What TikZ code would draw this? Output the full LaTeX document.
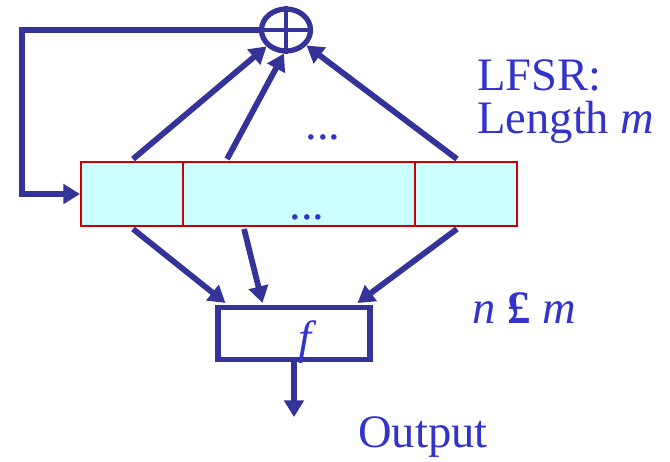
\documentclass[tikz,border=0pt]{standalone}
\usepackage{fontspec}
\setmainfont{Liberation Serif}
\usetikzlibrary{calc,arrows.meta,shapes.geometric}
\definecolor{wireblue}{HTML}{333399}
\definecolor{textblue}{HTML}{3333CC}
\definecolor{cellcyan}{HTML}{CCFFFF}
\definecolor{cellred}{HTML}{CC0000}

\begin{document}
\begin{tikzpicture}[x=0.02cm,y=-0.02cm,>={Triangle[length=9.5pt,width=11pt]},
  cell/.style={draw=cellred,fill=cellcyan,line width=1.1pt,minimum height=1.28cm,inner sep=0pt},
  wire/.style={draw=wireblue,line width=3.3pt},
  lbl/.style={text=textblue,font=\fontsize{26.5}{30}\selectfont,inner sep=0pt}]
  \useasboundingbox (0,0) rectangle (670,461);
  % register cells
  \node[cell,minimum width=2.04cm] (c1) at (132,194) {};
  \node[cell,minimum width=4.64cm] (c2) at (299,194) {};
  \node[cell,minimum width=2.04cm] (c3) at (466,194) {};
  % xor and output function
  \node[wire,ellipse,line width=3pt,minimum width=0.98cm,minimum height=0.84cm,inner sep=0pt] (xor) at (286,30) {};
  \draw[wire,line width=2.6pt] (xor.north)--(xor.south) (xor.west)--(xor.east);
  \node[wire,line width=2.9pt,minimum width=3.04cm,minimum height=1.04cm,inner sep=0pt] (fbox) at (294,333.5) {};
  % taps to xor
  \draw[wire,->] ($(c1.north)+(1,-2)$) -- (xor);
  \draw[wire,->] ($(c2.north west)+(45,-2)$) -- (xor.265);
  \draw[wire,->] ($(c3.north)+(-9,-2)$) -- (xor);
  % taps to f
  \draw[wire,->] ($(c1.south)+(1,2)$) -- ($(fbox.north west)+(10,-2)$);
  \draw[wire,->] ($(c2.south west)+(62,2)$) -- ($(fbox.north west)+(47,-2)$);
  \draw[wire,->] ($(c3.south)+(-9,2)$) -- ($(fbox.north east)+(-15,-2)$);
  % feedback
  \coordinate (fb) at (22,30);
  \draw[wire,->] (xor.west) -- (fb) |- (c1.west);
  % output
  \coordinate (out) at (294,417);
  \draw[wire,->] (fbox.south) -- (out);
  % texts
  \node[lbl,anchor=base] (dotsup) at (323,139) {...};
  \node[lbl,anchor=base] (dotsin) at (307,219) {...};
  \node[lbl,anchor=base] (flbl) at (308,353) {\textit{f}};
  \node[lbl,anchor=base west] (lfsr) at (477,90) {LFSR:};
  \node[lbl,anchor=base west] (len) at (477,133) {Length \textit{m}};
  \node[lbl,anchor=base west] (cond) at (472,323) {\textit{n} \textbf{£} \textit{m}};
  \node[lbl,anchor=base west] (outlbl) at (358,447) {Output};
\end{tikzpicture}
\end{document}
